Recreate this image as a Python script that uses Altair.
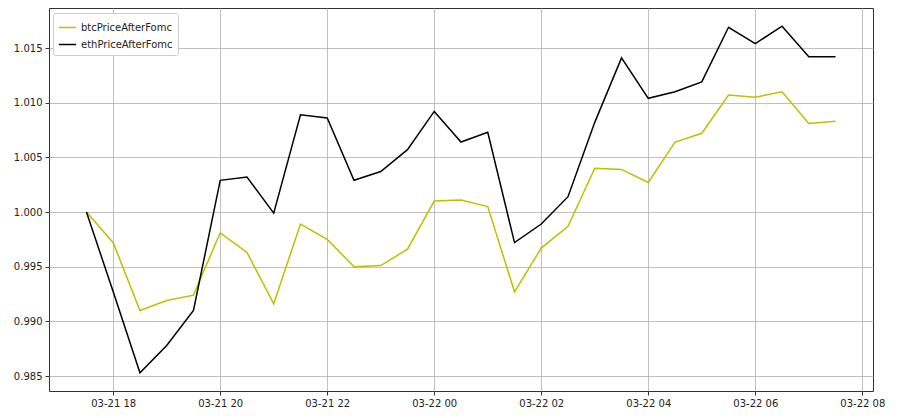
import altair as alt
import pandas as pd

times = [
    "2023-03-21T17:30:00Z", "2023-03-21T18:00:00Z", "2023-03-21T18:30:00Z", "2023-03-21T19:00:00Z",
    "2023-03-21T19:30:00Z", "2023-03-21T20:00:00Z", "2023-03-21T20:30:00Z", "2023-03-21T21:00:00Z",
    "2023-03-21T21:30:00Z", "2023-03-21T22:00:00Z", "2023-03-21T22:30:00Z", "2023-03-21T23:00:00Z",
    "2023-03-21T23:30:00Z", "2023-03-22T00:00:00Z", "2023-03-22T00:30:00Z", "2023-03-22T01:00:00Z",
    "2023-03-22T01:30:00Z", "2023-03-22T02:00:00Z", "2023-03-22T02:30:00Z", "2023-03-22T03:00:00Z",
    "2023-03-22T03:30:00Z", "2023-03-22T04:00:00Z", "2023-03-22T04:30:00Z", "2023-03-22T05:00:00Z",
    "2023-03-22T05:30:00Z", "2023-03-22T06:00:00Z", "2023-03-22T06:30:00Z", "2023-03-22T07:00:00Z",
    "2023-03-22T07:30:00Z",
]

btc = [1.0000, 0.9972, 0.9910, 0.9919, 0.9924, 0.9981, 0.9963, 0.9916,
       0.9989, 0.9975, 0.9950, 0.9951, 0.9966, 1.0010, 1.0011, 1.0005,
       0.9927, 0.9967, 0.9987, 1.0040, 1.0039, 1.0027, 1.0064, 1.0072,
       1.0107, 1.0105, 1.0110, 1.0081, 1.0083]

eth = [1.0000, 0.9927, 0.9853, 0.9878, 0.9910, 1.0029, 1.0032, 0.9999,
       1.0089, 1.0086, 1.0029, 1.0037, 1.0057, 1.0092, 1.0064, 1.0073,
       0.9972, 0.9989, 1.0014, 1.0082, 1.0141, 1.0104, 1.0110, 1.0119,
       1.0169, 1.0154, 1.0170, 1.0142, 1.0142]

series_names = ["btcPriceAfterFomc", "ethPriceAfterFomc"]
series_colors = ["#bfbf00", "#000000"]
y_ticks = [0.985, 0.990, 0.995, 1.000, 1.005, 1.010, 1.015]
x_tick_hours = [(21, 18), (21, 20), (21, 22), (22, 0), (22, 2), (22, 4), (22, 6), (22, 8)]

rows = []
for t, b, e in zip(times, btc, eth):
    rows.append({"time": t, "value": b, "series": series_names[0]})
    rows.append({"time": t, "value": e, "series": series_names[1]})
df = pd.DataFrame(rows)

x_values = [alt.DateTime(year=2023, month=3, date=d, hours=h, utc=True) for d, h in x_tick_hours]

chart = alt.Chart(df).mark_line(strokeWidth=1.5).encode(
    x=alt.X("time:T",
            scale=alt.Scale(type="utc",
                            domain=[alt.DateTime(year=2023, month=3, date=21, hours=16, minutes=48, utc=True),
                                    alt.DateTime(year=2023, month=3, date=22, hours=8, minutes=12, utc=True)]),
            axis=alt.Axis(title=None, values=x_values,
                          labelExpr="utcFormat(datum.value, '%m-%d %H')",
                          labelFontSize=10, tickSize=4, labelPadding=3, labelColor="#222",
                          tickColor="#333", domain=False, grid=True)),
    y=alt.Y("value:Q",
            scale=alt.Scale(domain=[0.98363, 1.01866], nice=False, zero=False),
            axis=alt.Axis(title=None, values=y_ticks, format=".3f", labelFontSize=10, tickSize=4,
                          labelPadding=3, labelColor="#222", tickColor="#333", domain=False, grid=True)),
    color=alt.Color("series:N",
                    scale=alt.Scale(domain=series_names, range=series_colors),
                    legend=alt.Legend(title=None, orient="none", legendX=4, legendY=5,
                                      symbolType="stroke", symbolSize=300, symbolStrokeWidth=1.5,
                                      labelFontSize=10, labelColor="#222", labelOffset=4,
                                      padding=5, rowPadding=2, fillColor="white",
                                      strokeColor="#cccccc", cornerRadius=2)),
).properties(
    width=824, height=383,
    autosize=alt.AutoSizeParams(type="none"),
    padding={"left": 41, "top": 0, "right": 22, "bottom": 27},
).configure_axis(
    gridColor="#b0b0b0", gridWidth=0.8, labelFont="DejaVu Sans",
).configure_legend(
    labelFont="DejaVu Sans",
).configure_view(
    stroke="#333333", strokeWidth=1,
)

chart.save("out.html", embed_options={"renderer": "svg", "actions": False})
